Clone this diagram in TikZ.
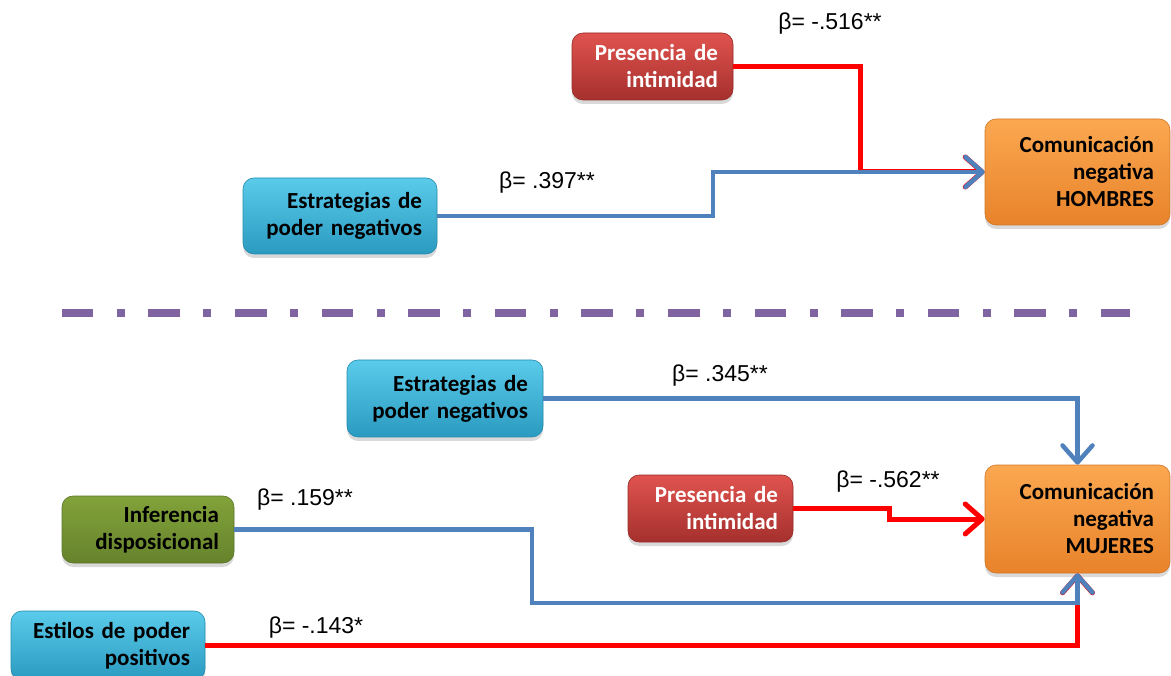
\documentclass[tikz,border=0pt]{standalone}
\usepackage{fontspec}
\setmainfont{Liberation Sans}
\newfontfamily\boxfam{Carlito}
\usetikzlibrary{arrows.meta,shadows}

\definecolor{redtop}{HTML}{E0534F}
\definecolor{redbot}{HTML}{A5302D}
\definecolor{bluetop}{HTML}{5ACBEA}
\definecolor{bluebot}{HTML}{2A9AC0}
\definecolor{greentop}{HTML}{82A23A}
\definecolor{greenbot}{HTML}{66832C}
\definecolor{orangetop}{HTML}{FBA851}
\definecolor{orangebot}{HTML}{E8832A}
\definecolor{pathblue}{HTML}{4F81BD}
\definecolor{pathred}{HTML}{FF0000}
\definecolor{sepviolet}{HTML}{8064A2}

\tikzset{
  varbox/.style={rounded corners=11pt, align=right, inner xsep=15pt, inner ysep=2pt,
    font=\boxfam\bfseries\fontsize{23}{27}\selectfont,
    drop shadow={shadow xshift=0pt, shadow yshift=-4pt, opacity=0.3}},
  redbox/.style={varbox, top color=redtop, bottom color=redbot, draw=redbot!90!black, line width=0.6pt, text=white},
  bluebox/.style={varbox, top color=bluetop, bottom color=bluebot, draw=bluebot!90!black, line width=0.6pt, text=black},
  greenbox/.style={varbox, top color=greentop, bottom color=greenbot, draw=greenbot!90!black, line width=0.6pt, text=black},
  orangebox/.style={varbox, top color=orangetop, bottom color=orangebot, draw=orangebot!90!black, line width=0.6pt, text=black},
  pathbase/.style={line width=4.5pt, line join=miter, -{Straight Barb[length=17pt,width=30pt,round]}},
  redpath/.style={pathbase, draw=pathred, line width=5pt},
  bluepath/.style={pathbase, draw=pathblue},
  coef/.style={font=\fontsize{23}{26}\selectfont, inner sep=0pt}
}

\begin{document}
\begin{tikzpicture}[x=1pt,y=-1pt]
\useasboundingbox (0,0) rectangle (1171,676);
\clip (0,0) rectangle (1171,676);

% ---------- upper model: men ----------
\node[redbox, minimum width=161pt, minimum height=67pt, text width=131pt] (presT) at (652.5,66.5) {Presencia de\\intimidad};
\node[bluebox, minimum width=194pt, minimum height=76pt, text width=164pt] (estT) at (340,216) {Estrategias de\\poder negativos};
\node[orangebox, minimum width=185pt, minimum height=106pt, text width=153pt] (comH) at (1077.5,172) {Comunicación\\negativa\\HOMBRES};

\draw[redpath] (presT.east) -| (860,172) -- (comH.west);
\draw[bluepath] (estT.east) -- (713,216) |- (comH.west);

\node[coef] (bH1) at (830,24) {β= -.516**};
\node[coef] (bH2) at (547,183) {β= .397**};

% ---------- separator ----------
\draw[sepviolet, line width=7.7pt, line cap=butt,
      dash pattern=on 31.7pt off 23.4pt on 8pt off 23.5pt] (61.7,313) -- (1130,313);

% ---------- lower model: women ----------
\node[bluebox, minimum width=196pt, minimum height=77pt, text width=166pt] (estB) at (445,398.5) {Estrategias de\\poder negativos};
\node[redbox, minimum width=165pt, minimum height=67pt, text width=135pt] (presB) at (710.5,508.5) {Presencia de\\intimidad};
\node[greenbox, minimum width=172pt, minimum height=67pt, text width=142pt] (infB) at (148,529.5) {Inferencia\\disposicional};
\node[bluebox, minimum width=194pt, minimum height=69pt, text width=164pt] (estiB) at (108,645.5) {Estilos de poder\\positivos};
\node[orangebox, minimum width=185pt, minimum height=108pt, text width=153pt] (comM) at (1077.5,519) {Comunicación\\negativa\\MUJERES};

\draw[bluepath] (estB.east) -| (comM.north);
\draw[redpath] (presB.east) -- (889,508.5) |- (comM.west);
\draw[redpath] (estiB.east) -| (comM.south);
\draw[bluepath] (infB.east) -| (532,603) -| (comM.south);

\node[coef] (bM1) at (720,376) {β= .345**};
\node[coef] (bM2) at (888,482) {β= -.562**};
\node[coef] (bM3) at (305,500) {β= .159**};
\node[coef] (bM4) at (316,628) {β= -.143*};
\end{tikzpicture}
\end{document}
